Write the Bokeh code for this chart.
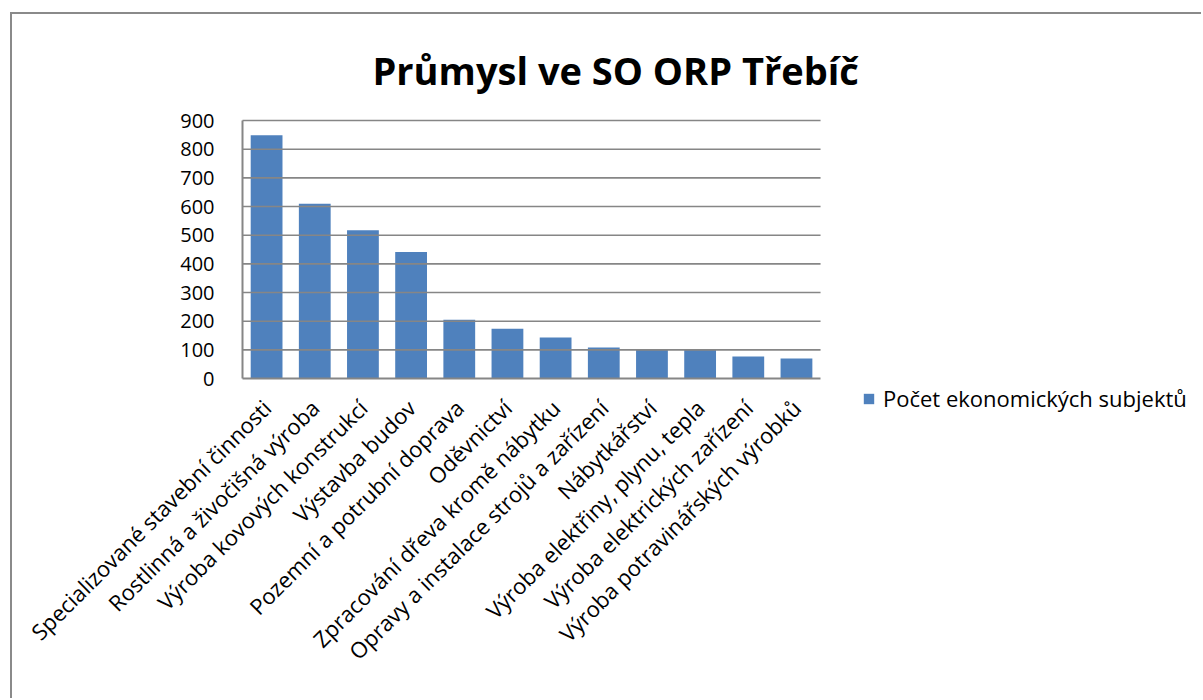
import math
from bokeh.plotting import figure
from bokeh.models import ColumnDataSource, FixedTicker, Legend, LegendItem, Range1d
from bokeh.embed import file_html
from bokeh.resources import INLINE

title_text = "Průmysl ve SO ORP Třebíč"
series_name = "Počet ekonomických subjektů"
categories = [
    "Specializované stavební činnosti",
    "Rostlinná a živočišná výroba",
    "Výroba kovových konstrukcí",
    "Výstavba budov",
    "Pozemní a potrubní doprava",
    "Oděvnictví",
    "Zpracování dřeva kromě nábytku",
    "Opravy a instalace strojů a zařízení",
    "Nábytkářství",
    "Výroba elektřiny, plynu, tepla",
    "Výroba elektrických zařízení",
    "Výroba potravinářských výrobků",
]
values = [849, 610, 517, 441, 205, 174, 143, 108, 102, 102, 77, 70]
y_ticks = [0, 100, 200, 300, 400, 500, 600, 700, 800, 900]

FONT = "Open Sans"
BLUE = "#4F81BD"
GRAY = "#868686"

idx = list(range(len(categories)))
n = len(categories)
source = ColumnDataSource(data=dict(x=idx, cat=categories, val=values))

# the frame covers the whole chart area below the title; axes sit at fixed spots
p = figure(
    x_range=Range1d(-5.275, 19.45), y_range=Range1d(-1123, 928),
    width=1191, height=686,
    output_backend="svg", toolbar_location=None,
    min_border_left=0, min_border_right=0, min_border_top=98, min_border_bottom=0,
)
# outer chart border (its right and bottom edges lie off-page)
p.styles = {"margin-left": "10px", "margin-top": "12px",
            "border-left": "2px solid #8a8a8a", "border-top": "2px solid #8a8a8a"}

r = p.vbar(x="x", top="val", width=0.66, source=source, fill_color=BLUE, line_color=None)

# horizontal gridlines limited to the plot area
grid_y = y_ticks[1:]
p.segment(x0=[-0.5] * len(grid_y), x1=[n - 0.5] * len(grid_y), y0=grid_y, y1=grid_y,
          line_color=GRAY, line_width=1.6)

p.title.text = title_text
p.title.text_font = FONT
p.title.text_font_style = "bold"
p.title.text_font_size = "38px"
p.title.text_color = "#000000"
p.title.align = "left"
p.title.offset = 360
p.title.standoff = 33

p.outline_line_color = None
p.xgrid.grid_line_color = None
p.ygrid.grid_line_color = None

p.yaxis.ticker = FixedTicker(ticks=y_ticks)
p.yaxis.bounds = (0, 900)
p.yaxis.fixed_location = -0.5
p.xaxis.ticker = FixedTicker(ticks=idx)
p.xaxis.major_label_overrides = {i: c for i, c in zip(idx, categories)}
p.xaxis.bounds = (-0.5, n - 0.5)
p.xaxis.fixed_location = 0

for ax in (p.xaxis[0], p.yaxis[0]):
    ax.axis_line_color = GRAY
    ax.axis_line_width = 2
    ax.major_tick_line_color = None
    ax.minor_tick_line_color = None
    ax.major_label_text_font = FONT
    ax.major_label_text_color = "#000000"

p.yaxis.major_label_text_font_size = "20px"
p.yaxis.major_label_standoff = 22
p.xaxis.major_label_text_font_size = "22px"
p.xaxis.major_label_orientation = math.pi / 4
p.xaxis.major_label_standoff = 19

legend = Legend(items=[LegendItem(label=series_name, renderers=[r])],
                location=(850, 287), border_line_color=None, background_fill_alpha=0,
                label_text_font=FONT, label_text_font_size="22px", label_text_color="#000000",
                glyph_width=13, glyph_height=13, label_standoff=8, padding=0,
                spacing=0, margin=0)
p.add_layout(legend, "center")

open("out.html", "w").write(file_html(p, INLINE))
